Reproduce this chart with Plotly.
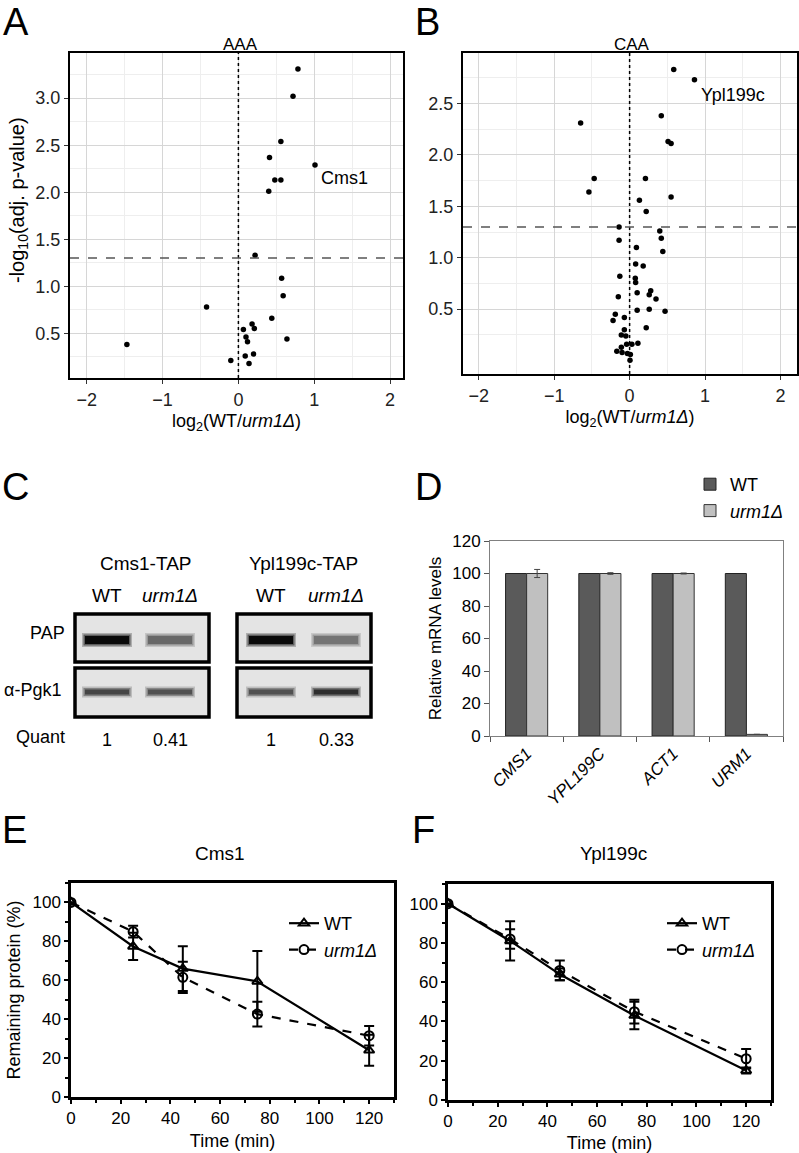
import plotly.graph_objects as go

W, H = 799, 1153
def px(x): return x / W
def py(y): return 1 - y / H

FONT = "Liberation Sans, Arial, Helvetica, sans-serif"

# ---------------- Panel A (AAA) ----------------
aaa_fc = [0.785, 0.72, 0.56, 0.41, 1.01, 0.48, 0.56, 0.40, 0.22, 0.57, 0.59, -0.42,
          0.44, 0.18, 0.066, 0.21, 0.10, 0.12, 0.64, -1.47, 0.20, 0.09, -0.10, 0.14]
aaa_p = [3.31, 3.02, 2.54, 2.37, 2.29, 2.13, 2.13, 2.01, 1.33, 1.085, 0.90, 0.78,
         0.66, 0.60, 0.54, 0.55, 0.46, 0.41, 0.44, 0.38, 0.28, 0.26, 0.21, 0.18]

# ---------------- Panel B (CAA) ----------------
caa_fc = [0.585, 0.86, 0.42, -0.65, 0.51, 0.55, -0.47, 0.21, -0.54, 0.13, 0.55, 0.22,
          -0.14, 0.40, 0.42, -0.14, 0.09, 0.44, 0.08, 0.18, -0.13, 0.075, 0.08, 0.10,
          0.28, 0.26, 0.35, -0.15, 0.10, 0.26, 0.47, -0.19, -0.07, -0.22, 0.22, -0.07,
          -0.11, -0.05, -0.04, 0.03, 0.11, -0.11, -0.17, -0.10, -0.03, 0.01, 0.005]
caa_p = [2.83, 2.73, 2.38, 2.31, 2.13, 2.11, 1.77, 1.77, 1.64, 1.56, 1.59, 1.45,
         1.30, 1.26, 1.19, 1.17, 1.10, 1.06, 0.94, 0.92, 0.82, 0.80, 0.76, 0.66,
         0.68, 0.64, 0.60, 0.62, 0.49, 0.50, 0.48, 0.45, 0.42, 0.39, 0.32, 0.30,
         0.25, 0.24, 0.16, 0.16, 0.17, 0.13, 0.09, 0.08, 0.07, 0.06, 0.003]
sig_threshold = 1.3
volc_x_ticks = [-2, -1, 0, 1, 2]
volc_y_ticks = [0.5, 1.0, 1.5, 2.0, 2.5, 3.0]

# ---------------- Panel C (western blot) ----------------
blot_groups = ["Cms1-TAP", "Ypl199c-TAP"]
lane_labels = ["WT", "<i>urm1Δ</i>", "WT", "<i>urm1Δ</i>"]
quant = [1, 0.41, 1, 0.33]
pap_darkness = [0.95, 0.55, 0.95, 0.50]
pgk1_darkness = [0.70, 0.65, 0.65, 0.80]

# ---------------- Panel D (mRNA) ----------------
genes = ["CMS1", "YPL199C", "ACT1", "URM1"]
mrna_wt = [100, 100, 100, 100]
mrna_urm1 = [100, 100, 100, 1]
mrna_urm1_err = [2.5, 0.5, 0.3, 0]

# ---------------- Panels E/F (chase) ----------------
time_min = [0, 25, 45, 75, 120]
cms1_wt = [100, 77.4, 66, 59.4, 24]
cms1_wt_err = [0, 7, 11.5, 15.6, 8]
cms1_urm1 = [100, 85, 61.5, 42.6, 31.5]
cms1_urm1_err = [0, 3, 8, 6.4, 5]
ypl_wt = [100, 81, 64, 43, 15]
ypl_wt_err = [0, 10, 3, 7, 1.5]
ypl_urm1 = [100, 82, 66, 45, 21]
ypl_urm1_err = [0, 5, 5, 6, 5]

fig = go.Figure()

# volcano plots
fig.add_trace(go.Scatter(x=aaa_fc, y=aaa_p, mode="markers", xaxis="x", yaxis="y",
                         marker=dict(color="black", size=5.5), showlegend=False))
fig.add_trace(go.Scatter(x=caa_fc, y=caa_p, mode="markers", xaxis="x2", yaxis="y2",
                         marker=dict(color="black", size=5.5), showlegend=False))

# bars
fig.add_trace(go.Bar(x=genes, y=mrna_wt, name="WT", xaxis="x3", yaxis="y3",
                     marker=dict(color="#5a5a5a", line=dict(color="#222", width=1)),
                     legend="legend"))
fig.add_trace(go.Bar(x=genes, y=mrna_urm1, name="<i>urm1Δ</i>", xaxis="x3", yaxis="y3",
                     marker=dict(color="#c0c0c0", line=dict(color="#333", width=1)),
                     error_y=dict(type="data", array=mrna_urm1_err, color="#444",
                                  thickness=1, width=3),
                     legend="legend"))

def chase(x, y, err, name, sym, dash, xa, ya, leg):
    fig.add_trace(go.Scatter(
        x=x, y=y, name=name, xaxis=xa, yaxis=ya, legend=leg,
        mode="lines+markers",
        line=dict(color="black", width=2.2, dash=dash),
        marker=dict(symbol=sym, size=9, color="black", line=dict(width=2, color="black")),
        error_y=dict(type="data", array=err, color="black", thickness=2, width=5)))

chase(time_min, cms1_wt, cms1_wt_err, "WT", "triangle-up-open", "solid", "x4", "y4", "legend2")
chase(time_min, cms1_urm1, cms1_urm1_err, "<i>urm1Δ</i>", "circle-open", "dash", "x4", "y4", "legend2")
chase(time_min, ypl_wt, ypl_wt_err, "WT", "triangle-up-open", "solid", "x5", "y5", "legend3")
chase(time_min, ypl_urm1, ypl_urm1_err, "<i>urm1Δ</i>", "circle-open", "dash", "x5", "y5", "legend3")

tickfont = dict(family=FONT, size=18, color="#222")
titlefont = dict(family=FONT, size=18, color="black")
chase_tick = dict(family=FONT, size=17, color="black")
chase_title = dict(family=FONT, size=18, color="black")

volc_x = dict(showline=True, mirror=True, linecolor="black", linewidth=2, automargin=False,
              ticks="outside", ticklen=4, tickcolor="#333", tickfont=tickfont,
              tickvals=volc_x_ticks, ticktext=["−2", "−1", "0", "1", "2"],
              showgrid=True, gridcolor="#d6d6d6", gridwidth=1.2,
              zeroline=False,
              minor=dict(dtick=0.5, tick0=0, showgrid=True, gridcolor="#eeeeee", gridwidth=1),
              title=dict(text="log<sub>2</sub>(WT/<i>urm1Δ</i>)", font=titlefont, standoff=6))
volc_y = dict(showline=True, mirror=True, linecolor="black", linewidth=2, automargin=False,
              ticks="outside", ticklen=4, tickcolor="#333", tickfont=tickfont,
              tickvals=volc_y_ticks, ticktext=["%.1f" % v for v in volc_y_ticks],
              showgrid=True, gridcolor="#d6d6d6", gridwidth=1.2, zeroline=False,
              minor=dict(tickvals=[0.25, 0.75, 1.25, 1.75, 2.25, 2.75, 3.25],
                         showgrid=True, gridcolor="#eeeeee", gridwidth=1))

chase_x = dict(showline=True, mirror=True, linecolor="black", linewidth=2.5, automargin=False,
               ticks="outside", ticklen=4, tickwidth=2, tickcolor="black",
               tickfont=chase_tick, range=[0, 130], dtick=20, tick0=0,
               showgrid=False, zeroline=False,
               minor=dict(ticks="outside", dtick=10, ticklen=3, tickwidth=2, tickcolor="black"),
               title=dict(text="Time (min)", font=chase_title, standoff=8))
chase_y = dict(showline=True, mirror=True, linecolor="black", linewidth=2.5, automargin=False,
               ticks="outside", ticklen=4, tickwidth=2, tickcolor="black",
               tickfont=chase_tick, range=[0, 110], dtick=20, tick0=0,
               showgrid=False, zeroline=False,
               minor=dict(ticks="outside", dtick=10, ticklen=3, tickwidth=2, tickcolor="black"))

fig.update_layout(
    template="none",
    width=W, height=H, margin=dict(l=0, r=0, t=0, b=0, autoexpand=False),
    paper_bgcolor="white", plot_bgcolor="white",
    font=dict(family=FONT, color="black"),
    bargap=0.425, bargroupgap=0, barmode="group",
    xaxis=dict(volc_x, domain=[px(70), px(403)], range=[-2.22, 2.17], anchor="y"),
    yaxis=dict(volc_y, domain=[py(378), py(53)], range=[0.025, 3.48], anchor="x"),
    xaxis2=dict(volc_x, domain=[px(463), px(797)], range=[-2.21, 2.22], anchor="y2"),
    yaxis2=dict(volc_y, domain=[py(374), py(53)], range=[-0.13, 2.99], anchor="x2"),
    xaxis3=dict(domain=[px(490), px(783)], anchor="y3", showline=True, mirror=True,
                automargin=False, showgrid=False,
                linecolor="#808080", linewidth=1, ticks="outside", tickson="boundaries",
                ticklen=5, tickcolor="#555", tickangle=-45,
                tickvals=genes, ticktext=["<i>%s</i>" % g for g in genes],
                tickfont=dict(family=FONT, size=17, color="black")),
    yaxis3=dict(domain=[py(736), py(541)], anchor="x3", range=[0, 120], dtick=20,
                automargin=False,
                showline=True, mirror=True, linecolor="#808080", linewidth=1,
                ticks="outside", ticklen=5, tickcolor="#555", showgrid=False, zeroline=False,
                tickfont=dict(family=FONT, size=17, color="black"),
                title=dict(text="Relative mRNA levels", font=dict(family=FONT, size=17), standoff=6)),
    xaxis4=dict(chase_x, domain=[px(71), px(394)], anchor="y4"),
    yaxis4=dict(chase_y, domain=[py(1097), py(883)], anchor="x4",
                title=dict(text="Remaining protein (%)", font=chase_title, standoff=8)),
    xaxis5=dict(chase_x, domain=[px(448), px(771)], anchor="y5"),
    yaxis5=dict(chase_y, domain=[py(1100), py(884)], anchor="x5"),
    legend=dict(x=px(690), y=py(466), xanchor="left", yanchor="top", bgcolor="rgba(0,0,0,0)",
                font=dict(family=FONT, size=18), tracegroupgap=0),
    legend2=dict(x=px(284), y=py(905), xanchor="left", yanchor="top", bgcolor="rgba(0,0,0,0)",
                 font=dict(family=FONT, size=18)),
    legend3=dict(x=px(662), y=py(905), xanchor="left", yanchor="top", bgcolor="rgba(0,0,0,0)",
                 font=dict(family=FONT, size=18)),
)

shapes = []
# reference lines on volcano plots
for xa, ya in (("x", "y"), ("x2", "y2")):
    shapes.append(dict(type="line", xref=xa, yref=ya + " domain", x0=0, x1=0, y0=0, y1=1,
                       line=dict(color="black", width=1.5, dash="dot")))
    shapes.append(dict(type="line", xref=xa + " domain", yref=ya, x0=0, x1=1,
                       y0=sig_threshold, y1=sig_threshold,
                       line=dict(color="#555", width=1.5, dash="dash")))

# western blot boxes
box_x = [(75, 209), (237, 371)]
rows_y = [(614, 662), (668, 717)]
lane_cx = [107, 170, 271, 336]
band_cy = [640, 692]
band_h = [8, 5]
band_w = 44

def grey(d):
    v = int(232 * (1 - d))
    return "rgb(%d,%d,%d)" % (v, v, v)

for (x0, x1) in box_x:
    for (y0, y1) in rows_y:
        shapes.append(dict(type="rect", xref="paper", yref="paper",
                           x0=px(x0), x1=px(x1), y0=py(y1), y1=py(y0),
                           fillcolor="#e4e4e4", line=dict(color="black", width=3.5)))
for r, dark in enumerate([pap_darkness, pgk1_darkness]):
    for i, d in enumerate(dark):
        cx, cy, h = lane_cx[i], band_cy[r], band_h[r]
        for grow, op in ((6, 0.25), (3, 0.5), (0, 1.0)):
            shapes.append(dict(type="rect", xref="paper", yref="paper",
                               x0=px(cx - band_w / 2 - grow / 2), x1=px(cx + band_w / 2 + grow / 2),
                               y0=py(cy + h / 2 + grow / 2), y1=py(cy - h / 2 - grow / 2),
                               fillcolor=grey(d), opacity=op, line=dict(width=0)))
fig.update_layout(shapes=shapes)

ann = []
def text(x, y, s, size=18, xanchor="center", **kw):
    ann.append(dict(x=px(x), y=py(y), xref="paper", yref="paper", text=s, showarrow=False,
                    xanchor=xanchor, yanchor="middle",
                    font=dict(family=FONT, size=size, color="black"), **kw))

for letter, (lx, ly) in zip("ABCDEF", [(16, 22), (427, 22), (15, 487), (428, 487), (14, 830), (423, 830)]):
    text(lx, ly, letter, size=38)

# y-axis title of panel A
text(18, 200, "-log<sub>10</sub>(adj. p-value)", size=20, textangle=-90)

text(240, 45, "AAA", size=17)
text(632, 45, "CAA", size=17)
ann.append(dict(x=1.06, y=2.15, xref="x", yref="y", text="Cms1", showarrow=False,
                xanchor="left", yanchor="middle", font=dict(family=FONT, size=18)))
ann.append(dict(x=0.92, y=2.58, xref="x2", yref="y2", text="Ypl199c", showarrow=False,
                xanchor="left", yanchor="middle", font=dict(family=FONT, size=18)))

# blot labels
text(145, 563, blot_groups[0], size=19)
text(303, 563, blot_groups[1], size=19)
for cx, lab, q in zip(lane_cx, lane_labels, quant):
    text(cx, 595, lab, size=19)
    text(cx, 740, "%g" % q, size=18)
text(47, 633, "PAP", size=18)
text(32, 690, "α-Pgk1", size=18)
text(40, 737, "Quant", size=18)

text(220, 853, "Cms1", size=19)
text(613, 853, "Ypl199c", size=19)

fig.update_layout(annotations=ann)
fig.write_html("out.html", config={"displayModeBar": False},
               post_script="document.body.style.margin='0';document.body.style.padding='0';")
